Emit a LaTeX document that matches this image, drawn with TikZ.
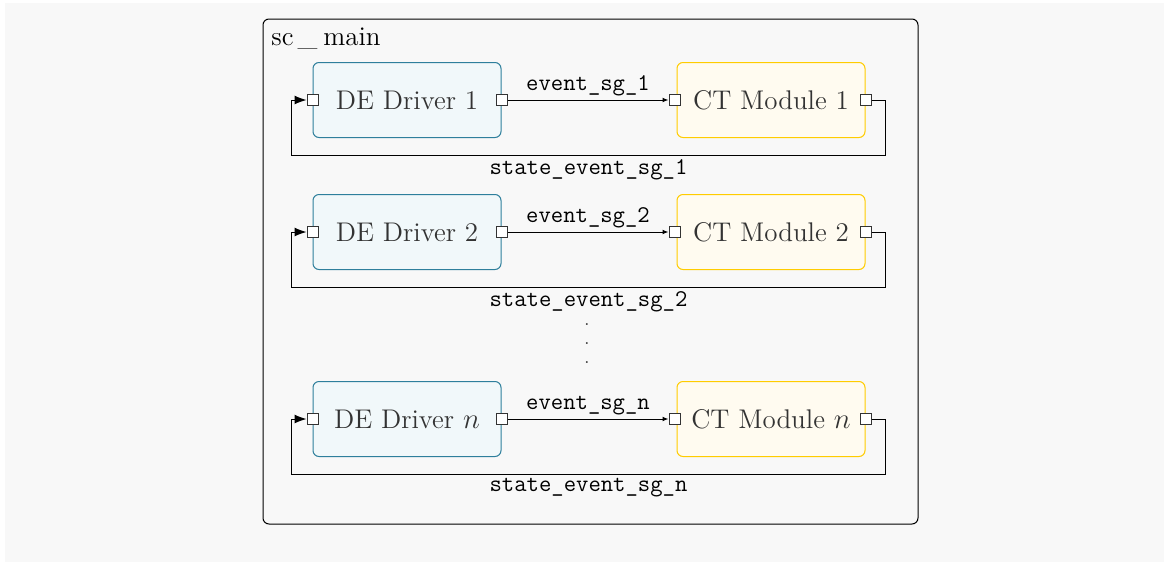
\documentclass[tikz,border=0pt]{standalone}
\usepackage{tikz}
\usetikzlibrary{arrows.meta, positioning, calc}
\definecolor{bgGray}{HTML}{F8F8F8}
\definecolor{deFill}{HTML}{F1F8FA}
\definecolor{deDraw}{HTML}{2E7F9C}
\definecolor{ctFill}{HTML}{FFFBF0}
\definecolor{ctDraw}{HTML}{FFCC00}
\definecolor{textDark}{HTML}{333333}
\tikzset{
  deBox/.style={rectangle, rounded corners=3pt, draw=deDraw, fill=deFill,
                text=textDark, font=\fontsize{13.5}{16}\selectfont,
                minimum width=94pt, minimum height=37.5pt, line width=0.5pt},
  ctBox/.style={rectangle, rounded corners=3pt, draw=ctDraw, fill=ctFill,
                text=textDark, font=\fontsize{13.5}{16}\selectfont,
                minimum width=94pt, minimum height=37.5pt, line width=0.5pt},
  portBox/.style={rectangle, draw=black!80, fill=white, minimum size=5.5pt,
                  inner sep=0pt, line width=0.5pt},
  arrowE/.style={-{Latex[length=3pt, width=2.4pt]}, line width=0.5pt},
  arrowS/.style={-{Latex[length=6pt, width=4.5pt]}, line width=0.5pt},
  sigLabel/.style={font=\fontsize{12}{14}\selectfont\ttfamily, inner sep=2pt},
}
\begin{document}
\begin{tikzpicture}[x=0.5pt, y=-0.5pt]
    \useasboundingbox (0,0) rectangle (1169,563);
    \fill[bgGray] (5,3) rectangle (1164,562);
    % sc_main container
    \draw[rounded corners=3pt, line width=0.5pt] (263,19) rectangle (918,524);
    \node[anchor=base west, inner sep=0pt, font=\fontsize{13.5}{16}\selectfont]
      (scmain) at (271,45) {sc\kern2pt\_\kern3pt main};

    % row 1
    \node[deBox] (de1) at (407,100) {DE Driver 1};
    \node[ctBox, right=87.5pt of de1] (ct1) {CT Module 1};
    % row 2
    \node[deBox, below=28pt of de1] (de2) {DE Driver 2};
    \node[ctBox, right=87.5pt of de2] (ct2) {CT Module 2};
    % row n
    \node[deBox, below=55.5pt of de2] (den) {DE Driver $n$};
    \node[ctBox, right=87.5pt of den] (ctn) {CT Module $n$};

    % ports
    \node[portBox] (d1in) at (de1.west) {};
    \node[portBox] (d1out) at (de1.east) {};
    \node[portBox] (c1in) at ([xshift=-1pt]ct1.west) {};
    \node[portBox] (c1out) at (ct1.east) {};
    \node[portBox] (d2in) at (de2.west) {};
    \node[portBox] (d2out) at (de2.east) {};
    \node[portBox] (c2in) at ([xshift=-1pt]ct2.west) {};
    \node[portBox] (c2out) at (ct2.east) {};
    \node[portBox] (dnin) at (den.west) {};
    \node[portBox] (dnout) at (den.east) {};
    \node[portBox] (cnin) at ([xshift=-1pt]ctn.west) {};
    \node[portBox] (cnout) at (ctn.east) {};

    % event signals
    \draw[arrowE] (d1out.east) -- node[above, sigLabel] {event\_sg\_1} (c1in.west);
    \draw[arrowE] (d2out.east) -- node[above, sigLabel] {event\_sg\_2} (c2in.west);
    \draw[arrowE] (dnout.east) -- node[above, sigLabel] {event\_sg\_n} (cnin.west);

    % state event feedback
    \draw[arrowS] (c1out.east) -- ++(7pt,0) |- ([xshift=-7.5pt, yshift=-27.5pt]d1in.west)
      node[pos=0.75, below, sigLabel] {state\_event\_sg\_1} |- (d1in.west);
    \draw[arrowS] (c2out.east) -- ++(7pt,0) |- ([xshift=-7.5pt, yshift=-27.5pt]d2in.west)
      node[pos=0.75, below, sigLabel] {state\_event\_sg\_2} |- (d2in.west);
    \draw[arrowS] (cnout.east) -- ++(7pt,0) |- ([xshift=-7.5pt, yshift=-27.5pt]dnin.west)
      node[pos=0.75, below, sigLabel] {state\_event\_sg\_n} |- (dnin.west);

    % more rows
    \node[text=textDark, inner sep=0pt, font=\fontsize{9}{9}\selectfont] (dots) at (587,344)
      {\vbox{\baselineskip=9.5pt \hbox{.}\hbox{.}\hbox{.}}};
  \end{tikzpicture}
\end{document}
